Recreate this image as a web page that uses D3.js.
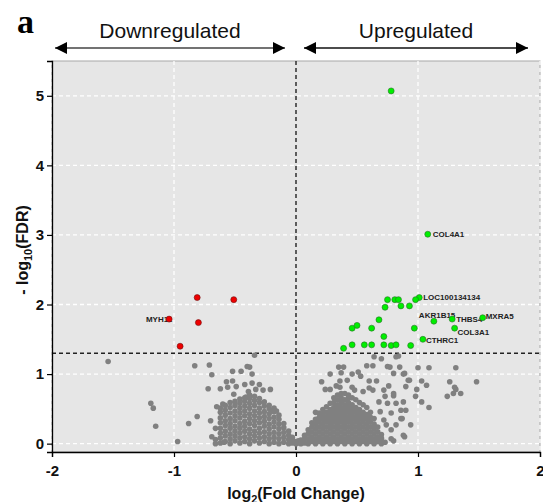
<!DOCTYPE html>
<html>
<head>
<meta charset="UTF-8">
<title>Volcano plot</title>
<script src="https://d3js.org/d3.v7.min.js"></script>
<style>
  body { margin: 0; background: #fff; }
  svg { display: block; font-family: "Liberation Sans", Arial, sans-serif; }
</style>
</head>
<body>
<div class="canvas"></div>
<script>
// ---- data: [log2 fold change, -log10 FDR] ----
const downPoints = [[-0.81, 2.10], [-0.51, 2.07], [-1.04, 1.79], [-0.80, 1.74], [-0.95, 1.40]];

const upPoints = [
  [0.78, 5.07], [1.08, 3.01], [1.01, 2.10], [0.98, 2.07], [0.75, 2.07], [0.81, 2.07], [0.84, 2.07],
  [0.73, 1.96], [0.86, 1.98], [0.93, 1.98], [1.13, 1.76], [1.28, 1.79], [1.53, 1.81], [0.97, 1.66],
  [1.30, 1.66], [0.72, 1.54], [1.04, 1.50], [0.68, 1.78], [0.46, 1.66], [0.50, 1.70], [0.62, 1.66],
  [0.39, 1.37], [0.46, 1.42], [0.56, 1.42], [0.62, 1.42], [0.72, 1.42], [0.78, 1.41], [0.82, 1.42], [0.94, 1.41]
];

const labeledGenes = [
  ["COL4A1", 1.08, 3.01], ["LOC100134134", 1.01, 2.10], ["AKR1B15", 1.13, 1.76], ["THBS4", 1.28, 1.79],
  ["MXRA5", 1.53, 1.81], ["COL3A1", 1.30, 1.66], ["CTHRC1", 1.04, 1.50], ["MYH11", -1.04, 1.79]
];

// non-significant genes, scattered
const grayScatter = [
  [-1.54, 1.18], [-1.19, 0.58], [-1.17, 0.51], [-1.15, 0.25], [-0.97, 0.03],
  [-0.88, 0.29], [-0.81, 0.39], [-0.70, 0.33], [-0.66, 0.22], [-0.69, 0.10], [-0.59, 0.02],
  [-0.83, 1.12], [-0.71, 1.13], [-0.69, 0.99], [-0.34, 1.27], [-0.40, 1.11], [-0.38, 1.10],
  [-0.52, 1.04], [-0.45, 1.04], [-0.36, 1.00], [-0.57, 0.89], [-0.52, 0.90], [-0.72, 0.79],
  [-0.62, 0.79], [-0.56, 0.81], [-0.49, 0.82], [-0.42, 0.85], [-0.36, 0.87], [-0.30, 0.85],
  [-0.51, 0.71], [-0.39, 0.75], [-0.33, 0.78], [-0.27, 0.77], [-0.21, 0.78], [-0.41, 0.67],
  [-0.65, 0.53], [-0.60, 0.57], [-0.20, 0.47], [-0.16, 0.47],
  [0.64, 1.25], [0.70, 1.22], [0.82, 1.25], [0.84, 1.26], [0.35, 1.10], [0.39, 1.10], [0.58, 1.12],
  [0.63, 1.12], [0.75, 1.11], [0.77, 1.10], [0.85, 1.10], [0.28, 1.00], [0.37, 1.02], [0.46, 1.00],
  [0.51, 1.03], [0.53, 0.97], [0.80, 1.01], [0.89, 1.01], [0.21, 0.89], [0.36, 0.90], [0.42, 0.91],
  [0.60, 0.90], [0.66, 0.90], [0.76, 0.83], [0.92, 0.91], [0.24, 0.78], [0.28, 0.78], [0.33, 0.83],
  [0.36, 0.81], [0.46, 0.81], [0.48, 0.77], [0.55, 0.75], [0.60, 0.80], [0.63, 0.77], [0.72, 0.77],
  [0.80, 0.72], [0.68, 0.60], [0.75, 0.58], [0.82, 0.58], [0.69, 0.46], [0.78, 0.44], [0.86, 0.48],
  [0.72, 0.34], [0.86, 0.36], [0.74, 0.27], [0.82, 0.27], [0.78, 0.20], [0.70, 0.08], [0.78, 0.07],
  [0.89, 0.10], [0.16, 0.45], [1.00, 1.09], [1.09, 1.09], [1.31, 1.09], [0.88, 1.00], [0.93, 0.91],
  [1.03, 0.90], [1.07, 0.84], [1.26, 0.89], [1.48, 0.89], [0.90, 0.82], [0.99, 0.78], [1.30, 0.81],
  [1.31, 0.78], [1.29, 0.72], [1.35, 0.72], [1.24, 0.68], [0.98, 0.68], [1.03, 0.60], [1.09, 0.52],
  [0.88, 0.60], [0.90, 0.48], [0.87, 0.36], [0.94, 0.27], [0.88, 0.12], [0.80, 0.69], [0.73, 0.68],
  [0.66, 0.03], [0.80, 0.04]
];

// non-significant genes, dense core: [log2FC, [-log10 FDR values]]
const grayDenseLeft = [
  [-0.66, [0.00, 0.06]],
  [-0.62, [0.01, 0.08, 0.15, 0.22, 0.30, 0.37, 0.45, 0.51]],
  [-0.58, [0.03, 0.11, 0.18, 0.26, 0.33, 0.41, 0.48, 0.55]],
  [-0.54, [0.00, 0.07, 0.14, 0.22, 0.29, 0.36, 0.44, 0.52, 0.59]],
  [-0.50, [0.04, 0.11, 0.18, 0.25, 0.33, 0.40, 0.47, 0.55, 0.61]],
  [-0.46, [0.01, 0.08, 0.15, 0.22, 0.29, 0.37, 0.44, 0.51, 0.58, 0.64]],
  [-0.42, [0.03, 0.10, 0.18, 0.25, 0.32, 0.40, 0.47, 0.54, 0.61, 0.66]],
  [-0.38, [0.00, 0.07, 0.14, 0.21, 0.29, 0.36, 0.43, 0.51, 0.58, 0.65, 0.70]],
  [-0.34, [0.04, 0.11, 0.18, 0.26, 0.33, 0.40, 0.47, 0.55, 0.62, 0.68]],
  [-0.30, [0.01, 0.08, 0.15, 0.22, 0.30, 0.37, 0.44, 0.51, 0.59, 0.65]],
  [-0.26, [0.03, 0.10, 0.17, 0.25, 0.32, 0.39, 0.46, 0.54, 0.60]],
  [-0.22, [0.00, 0.07, 0.14, 0.21, 0.28, 0.36, 0.43, 0.50, 0.55]],
  [-0.18, [0.02, 0.09, 0.16, 0.24, 0.31, 0.38, 0.46, 0.51]],
  [-0.14, [0.00, 0.07, 0.14, 0.21, 0.28, 0.35, 0.41]],
  [-0.10, [0.02, 0.09, 0.16, 0.23, 0.29]],
  [-0.06, [0.00, 0.06, 0.12, 0.18]],
  [-0.03, [0.01, 0.05, 0.09]],
  [0.00, [0.00, 0.03]],
  [0.02, [0.01, 0.04]]
];

const grayDenseRight = [
  [0.04, [0.00, 0.05]],
  [0.07, [0.01, 0.07, 0.12]],
  [0.10, [0.00, 0.07, 0.14, 0.20]],
  [0.13, [0.03, 0.10, 0.17, 0.24, 0.30]],
  [0.16, [0.00, 0.07, 0.14, 0.21, 0.28, 0.35]],
  [0.19, [0.03, 0.10, 0.17, 0.24, 0.31, 0.38, 0.44]],
  [0.22, [0.00, 0.07, 0.14, 0.21, 0.28, 0.35, 0.42, 0.49]],
  [0.25, [0.03, 0.10, 0.17, 0.24, 0.31, 0.38, 0.45, 0.53]],
  [0.28, [0.00, 0.07, 0.14, 0.21, 0.28, 0.35, 0.42, 0.49, 0.58]],
  [0.31, [0.03, 0.10, 0.17, 0.24, 0.31, 0.38, 0.45, 0.52, 0.59, 0.66]],
  [0.34, [0.00, 0.07, 0.14, 0.21, 0.28, 0.35, 0.42, 0.49, 0.56, 0.63, 0.70]],
  [0.37, [0.03, 0.10, 0.17, 0.24, 0.31, 0.38, 0.45, 0.52, 0.59, 0.66, 0.72]],
  [0.40, [0.00, 0.07, 0.14, 0.21, 0.28, 0.35, 0.42, 0.49, 0.56, 0.63, 0.72]],
  [0.43, [0.03, 0.10, 0.17, 0.24, 0.31, 0.38, 0.45, 0.52, 0.59, 0.66, 0.70]],
  [0.46, [0.00, 0.07, 0.14, 0.21, 0.28, 0.35, 0.42, 0.49, 0.56, 0.66]],
  [0.49, [0.03, 0.10, 0.17, 0.24, 0.31, 0.38, 0.45, 0.52, 0.63]],
  [0.52, [0.00, 0.07, 0.14, 0.21, 0.28, 0.35, 0.42, 0.49, 0.59]],
  [0.55, [0.03, 0.10, 0.17, 0.24, 0.31, 0.38, 0.45, 0.56]],
  [0.58, [0.00, 0.07, 0.14, 0.21, 0.28, 0.35, 0.42, 0.52]],
  [0.61, [0.03, 0.10, 0.17, 0.24, 0.31, 0.38, 0.45]],
  [0.64, [0.00, 0.07, 0.14, 0.21, 0.28, 0.36]],
  [0.67, [0.03, 0.10, 0.17, 0.24]],
  [0.70, [0.00, 0.07, 0.13]],
  [0.73, [0.02]]
];

const xTicks = [-2, -1, 0, 1, 2];
const yTicks = [0, 1, 2, 3, 4, 5];
const fcCutoff = 0;
const fdrCutoff = 1.3;

// ---- layout ----
const width = 543;
const height = 502;
const [mt, mr, mb, ml] = [61, 3, 50, 52];
const graphWidth = width - ml - mr;
const graphHeight = height - mt - mb;

const svg = d3.select('.canvas')
  .append('svg')
  .attr('width', width)
  .attr('height', height);

const graph = svg.append('g')
  .attr('transform', `translate(${ml}, ${mt})`);

const x = d3.scaleLinear().domain([-2, 2]).range([0, graphWidth]);
const y = d3.scaleLinear().domain([-0.12, 5.5]).range([graphHeight, 0]);

graph.append('rect')
  .attr('width', graphWidth)
  .attr('height', graphHeight)
  .attr('fill', '#e6e6e6')
  .attr('stroke', '#a8a8a8');

// white dashed grid
graph.selectAll('.gy').data(yTicks).enter().append('line')
  .attr('x1', 0).attr('x2', graphWidth)
  .attr('y1', d => y(d)).attr('y2', d => y(d))
  .attr('stroke', '#fff').attr('stroke-width', 1.3).attr('stroke-dasharray', '4,3');
graph.selectAll('.gx').data(xTicks.filter(d => d !== 0)).enter().append('line')
  .attr('x1', d => x(d)).attr('x2', d => x(d))
  .attr('y1', 0).attr('y2', graphHeight)
  .attr('stroke', '#fff').attr('stroke-width', 1.3).attr('stroke-dasharray', '4,3');

// cutoffs
graph.append('line')
  .attr('x1', x(fcCutoff)).attr('x2', x(fcCutoff))
  .attr('y1', 0).attr('y2', graphHeight)
  .attr('stroke', '#222').attr('stroke-width', 1.4).attr('stroke-dasharray', '4,3');
graph.append('line')
  .attr('x1', 0).attr('x2', graphWidth)
  .attr('y1', y(fdrCutoff)).attr('y2', y(fdrCutoff))
  .attr('stroke', '#222').attr('stroke-width', 1.4).attr('stroke-dasharray', '4,3');

// gray points
const grayAll = grayScatter
  .concat(grayDenseLeft.flatMap(([fc, ys]) => ys.map(v => [fc, v])))
  .concat(grayDenseRight.flatMap(([fc, ys]) => ys.map(v => [fc, v])));

graph.selectAll('.ns').data(grayAll).enter().append('circle')
  .attr('cx', d => x(d[0])).attr('cy', d => y(d[1]))
  .attr('r', 2.8).attr('fill', '#808080');

// gene labels (under the dots)
const labelOffset = {
  COL4A1: [5, 3, 'start'],
  LOC100134134: [4, 2, 'start'],
  AKR1B15: [-15, -3, 'start'],
  THBS4: [4, 3, 'start'],
  MXRA5: [3, 1, 'start'],
  COL3A1: [3, 7, 'start'],
  CTHRC1: [3, 4, 'start'],
  MYH11: [3, 3, 'end']
};
graph.selectAll('.lab').data(labeledGenes).enter().append('text')
  .attr('x', d => x(d[1]) + labelOffset[d[0]][0])
  .attr('y', d => y(d[2]) + labelOffset[d[0]][1])
  .attr('text-anchor', d => labelOffset[d[0]][2])
  .attr('font-size', 8).attr('font-weight', 'bold').attr('fill', '#222')
  .text(d => d[0]);

graph.selectAll('.up').data(upPoints).enter().append('circle')
  .attr('cx', d => x(d[0])).attr('cy', d => y(d[1]))
  .attr('r', 3).attr('fill', '#00ee00').attr('stroke', '#2b6e2b').attr('stroke-width', 0.6);
graph.selectAll('.down').data(downPoints).enter().append('circle')
  .attr('cx', d => x(d[0])).attr('cy', d => y(d[1]))
  .attr('r', 3).attr('fill', '#ee0000').attr('stroke', '#6e1010').attr('stroke-width', 0.6);

// axes
const xAxis = graph.append('g')
  .attr('transform', `translate(0, ${graphHeight})`)
  .call(d3.axisBottom(x).tickValues(xTicks).tickSize(5).tickFormat(d => String(d)));
const yAxis = graph.append('g')
  .call(d3.axisLeft(y).tickValues(yTicks).tickSize(5).tickFormat(d => String(d)));
[xAxis, yAxis].forEach(a => {
  a.select('.domain').attr('stroke', '#000').attr('stroke-width', 1.3);
  a.selectAll('.tick line').attr('stroke', '#000').attr('stroke-width', 1.2);
  a.selectAll('.tick text').attr('fill', '#111').attr('font-size', 15).attr('font-weight', 'bold')
    .attr('font-family', '"Liberation Sans", Arial, sans-serif');
});
xAxis.selectAll('.tick text').attr('dy', '1.05em');
yAxis.selectAll('.tick text').attr('x', -8);

// axis titles
svg.append('text')
  .attr('x', ml + x(0)).attr('y', 499)
  .attr('text-anchor', 'middle').attr('font-size', 16).attr('font-weight', 'bold').attr('fill', '#111')
  .html('log<tspan font-size="11" dy="4">2</tspan><tspan dy="-4">(Fold Change)</tspan>');
svg.append('text')
  .attr('transform', 'translate(28, 250) rotate(-90)')
  .attr('text-anchor', 'middle').attr('font-size', 16).attr('font-weight', 'bold').attr('fill', '#111')
  .html('- log<tspan font-size="11" dy="4">10</tspan><tspan dy="-4">(FDR)</tspan>');

// panel letter and direction arrows
svg.append('text')
  .attr('x', 17).attr('y', 33)
  .attr('font-family', '"Liberation Serif", "Times New Roman", serif')
  .attr('font-size', 34).attr('font-weight', 'bold').text('a');

const defs = svg.append('defs');
defs.append('marker').attr('id', 'ah')
  .attr('viewBox', '0 0 10 10').attr('refX', 10).attr('refY', 5)
  .attr('markerWidth', 14).attr('markerHeight', 12).attr('markerUnits', 'userSpaceOnUse')
  .attr('orient', 'auto-start-reverse')
  .append('path').attr('d', 'M0,0L10,5L0,10Z').attr('fill', '#000');

const arrows = [
  { text: 'Downregulated', x1: 55, x2: 285, stroke: '#444' },
  { text: 'Upregulated', x1: 304, x2: 528, stroke: '#111' }
];
arrows.forEach(a => {
  svg.append('line')
    .attr('x1', a.x1).attr('x2', a.x2).attr('y1', 48).attr('y2', 48)
    .attr('stroke', a.stroke).attr('stroke-width', 1.6)
    .attr('marker-start', 'url(#ah)').attr('marker-end', 'url(#ah)');
  svg.append('text')
    .attr('x', (a.x1 + a.x2) / 2).attr('y', 38)
    .attr('text-anchor', 'middle').attr('font-size', 21).attr('fill', '#111')
    .text(a.text);
});
</script>
</body>
</html>
